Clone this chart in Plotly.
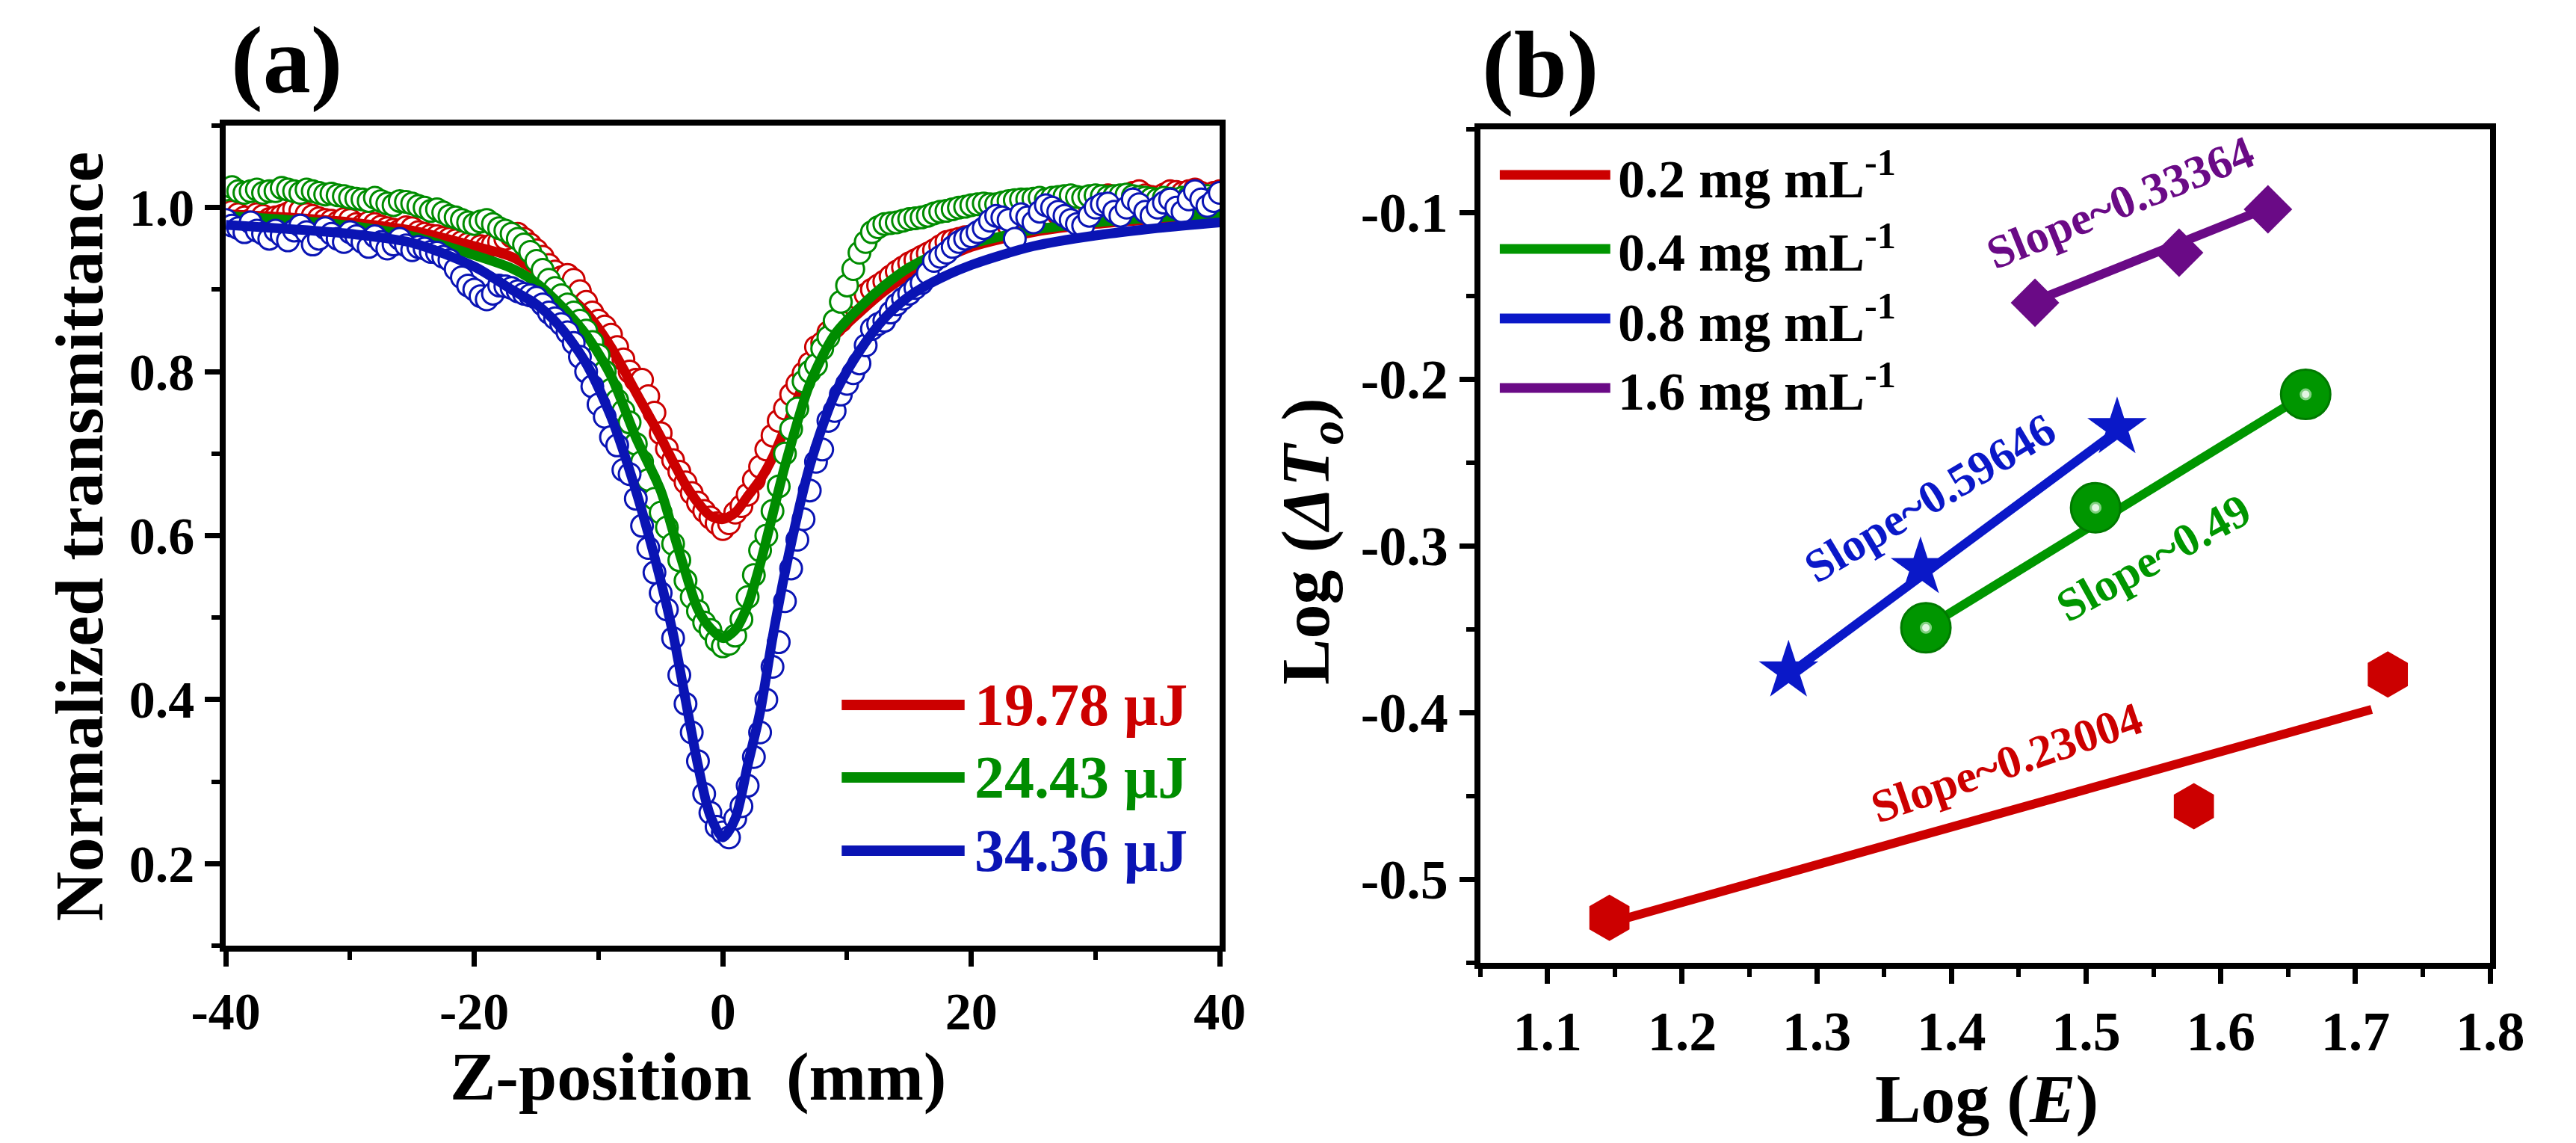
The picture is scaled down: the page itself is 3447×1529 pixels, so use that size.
import plotly.graph_objects as go

FONT = "Liberation Serif"
W, H = 3447, 1529

# ---------------- panel (a): Z-scan data ----------------
z_pos = [
    -40, -39.5, -39, -38.5, -38, -37.5, -37, -36.5, -36, -35.5,
    -35, -34.5, -34, -33.5, -33, -32.5, -32, -31.5, -31, -30.5,
    -30, -29.5, -29, -28.5, -28, -27.5, -27, -26.5, -26, -25.5,
    -25, -24.5, -24, -23.5, -23, -22.5, -22, -21.5, -21, -20.5,
    -20, -19.5, -19, -18.5, -18, -17.5, -17, -16.5, -16, -15.5,
    -15, -14.5, -14, -13.5, -13, -12.5, -12, -11.5, -11, -10.5,
    -10, -9.5, -9, -8.5, -8, -7.5, -7, -6.5, -6, -5.5,
    -5, -4.5, -4, -3.5, -3, -2.5, -2, -1.5, -1, -0.5,
    0, 0.5, 1, 1.5, 2, 2.5, 3, 3.5, 4, 4.5,
    5, 5.5, 6, 6.5, 7, 7.5, 8, 8.5, 9, 9.5,
    10, 10.5, 11, 11.5, 12, 12.5, 13, 13.5, 14, 14.5,
    15, 15.5, 16, 16.5, 17, 17.5, 18, 18.5, 19, 19.5,
    20, 20.5, 21, 21.5, 22, 22.5, 23, 23.5, 24, 24.5,
    25, 25.5, 26, 26.5, 27, 27.5, 28, 28.5, 29, 29.5,
    30, 30.5, 31, 31.5, 32, 32.5, 33, 33.5, 34, 34.5,
    35, 35.5, 36, 36.5, 37, 37.5, 38, 38.5, 39, 39.5,
    40,
]

t_1978 = [
    0.990, 0.995, 0.992, 0.988, 0.985, 0.992, 0.990, 0.986, 0.988, 0.990,
    0.993, 0.998, 0.996, 0.992, 0.990, 0.987, 0.985, 0.984, 0.982, 0.986,
    0.985, 0.980, 0.978, 0.982, 0.980, 0.977, 0.975, 0.973, 0.972, 0.976,
    0.975, 0.970, 0.968, 0.966, 0.965, 0.963, 0.962, 0.960, 0.958, 0.956,
    0.955, 0.953, 0.952, 0.955, 0.958, 0.962, 0.965, 0.968, 0.962, 0.955,
    0.948, 0.940, 0.930, 0.922, 0.915, 0.918, 0.912, 0.898, 0.885, 0.872,
    0.862, 0.855, 0.845, 0.830, 0.815, 0.800, 0.790, 0.790, 0.770, 0.750,
    0.725, 0.706, 0.692, 0.678, 0.665, 0.652, 0.640, 0.630, 0.622, 0.615,
    0.608, 0.615, 0.628, 0.636, 0.650, 0.668, 0.684, 0.705, 0.722, 0.740,
    0.755, 0.772, 0.785, 0.798, 0.810, 0.830, 0.835, 0.848, 0.855, 0.862,
    0.876, 0.882, 0.888, 0.894, 0.900, 0.905, 0.910, 0.916, 0.922, 0.927,
    0.932, 0.936, 0.940, 0.944, 0.948, 0.953, 0.958, 0.960, 0.962, 0.964,
    0.965, 0.968, 0.970, 0.973, 0.975, 0.976, 0.978, 0.980, 0.982, 0.984,
    0.985, 0.988, 0.990, 0.991, 0.992, 0.994, 0.995, 0.998, 1.000, 1.003,
    1.005, 1.010, 1.015, 1.012, 1.010, 1.014, 1.018, 1.020, 1.015, 1.013,
    1.012, 1.016, 1.020, 1.019, 1.018, 1.020, 1.022, 1.018, 1.015, 1.018,
    1.020,
]

t_2443 = [
    1.022, 1.025, 1.020, 1.018, 1.020, 1.022, 1.018, 1.020, 1.020, 1.024,
    1.022, 1.020, 1.018, 1.022, 1.020, 1.018, 1.016, 1.017, 1.015, 1.014,
    1.012, 1.011, 1.010, 1.008, 1.012, 1.008, 1.005, 1.003, 1.008, 1.007,
    1.005, 1.002, 1.000, 0.996, 0.998, 0.994, 0.990, 0.988, 0.985, 0.982,
    0.980, 0.983, 0.985, 0.980, 0.975, 0.972, 0.968, 0.962, 0.955, 0.946,
    0.935, 0.924, 0.912, 0.902, 0.893, 0.882, 0.872, 0.862, 0.850, 0.836,
    0.820, 0.800, 0.778, 0.765, 0.752, 0.738, 0.712, 0.690, 0.668, 0.645,
    0.628, 0.610, 0.590, 0.570, 0.545, 0.525, 0.508, 0.494, 0.485, 0.472,
    0.465, 0.468, 0.478, 0.498, 0.525, 0.552, 0.582, 0.600, 0.630, 0.660,
    0.700, 0.730, 0.755, 0.788, 0.800, 0.808, 0.828, 0.842, 0.862, 0.885,
    0.905, 0.925, 0.945, 0.958, 0.970, 0.976, 0.980, 0.981, 0.982, 0.984,
    0.986, 0.987, 0.988, 0.990, 0.993, 0.995, 0.996, 0.998, 1.000, 1.001,
    1.003, 1.004, 1.005, 1.004, 1.004, 1.006, 1.008, 1.009, 1.010, 1.010,
    1.011, 1.012, 1.010, 1.012, 1.013, 1.014, 1.015, 1.013, 1.012, 1.014,
    1.015, 1.014, 1.013, 1.014, 1.015, 1.016, 1.014, 1.013, 1.012, 1.011,
    1.010, 1.012, 1.011, 1.010, 1.012, 1.013, 1.010, 1.012, 1.014, 1.012,
    1.010,
]

t_3436 = [
    0.985, 0.978, 0.975, 0.970, 0.982, 0.972, 0.968, 0.962, 0.972, 0.966,
    0.960, 0.972, 0.978, 0.970, 0.955, 0.962, 0.975, 0.968, 0.962, 0.958,
    0.970, 0.965, 0.958, 0.952, 0.965, 0.958, 0.950, 0.955, 0.962, 0.954,
    0.948, 0.952, 0.950, 0.946, 0.945, 0.940, 0.936, 0.925, 0.915, 0.905,
    0.900, 0.892, 0.888, 0.895, 0.905, 0.904, 0.902, 0.898, 0.895, 0.893,
    0.890, 0.882, 0.872, 0.865, 0.858, 0.848, 0.835, 0.818, 0.800, 0.782,
    0.760, 0.745, 0.720, 0.710, 0.680, 0.675, 0.645, 0.612, 0.585, 0.555,
    0.530, 0.510, 0.475, 0.430, 0.395, 0.360, 0.325, 0.285, 0.262, 0.245,
    0.238, 0.232, 0.255, 0.270, 0.295, 0.330, 0.360, 0.400, 0.440, 0.470,
    0.520, 0.560, 0.595, 0.620, 0.655, 0.690, 0.705, 0.740, 0.752, 0.772,
    0.785, 0.798, 0.810, 0.832, 0.852, 0.858, 0.862, 0.872, 0.882, 0.889,
    0.895, 0.902, 0.908, 0.920, 0.935, 0.940, 0.945, 0.952, 0.958, 0.962,
    0.965, 0.970, 0.975, 0.984, 0.990, 0.988, 0.985, 0.962, 0.992, 0.988,
    0.982, 0.995, 1.003, 1.000, 0.995, 0.990, 0.985, 0.980, 0.978, 0.990,
    1.000, 1.004, 1.005, 0.995, 0.990, 1.000, 1.010, 1.004, 0.995, 0.990,
    1.000, 1.006, 1.010, 1.000, 0.995, 1.010, 1.020, 1.010, 1.002, 1.008,
    1.018,
]

# fitted curves
fit_z = [-40, -35, -30, -25, -20, -17, -15, -13, -11, -9, -7, -5, -4, -3, -2, -1,
         0, 1, 2, 3, 4, 5, 7, 9, 11, 13, 15, 17, 20, 25, 30, 35, 40]
fit_1978 = [0.992, 0.988, 0.982, 0.972, 0.953, 0.940, 0.922, 0.900, 0.872, 0.830,
            0.775, 0.720, 0.690, 0.662, 0.640, 0.624, 0.620, 0.628, 0.648, 0.668,
            0.695, 0.730, 0.800, 0.843, 0.872, 0.898, 0.918, 0.932, 0.952, 0.970,
            0.980, 0.986, 0.990]
fit_2443 = [0.990, 0.985, 0.978, 0.965, 0.942, 0.926, 0.908, 0.880, 0.845, 0.795,
            0.720, 0.655, 0.605, 0.555, 0.510, 0.487, 0.475, 0.485, 0.515, 0.565,
            0.625, 0.685, 0.785, 0.845, 0.878, 0.905, 0.927, 0.942, 0.956, 0.973,
            0.982, 0.988, 0.992]
fit_3436 = [0.979, 0.974, 0.968, 0.957, 0.928, 0.900, 0.882, 0.853, 0.810, 0.745,
            0.655, 0.545, 0.480, 0.400, 0.320, 0.258, 0.232, 0.255, 0.320, 0.385,
            0.475, 0.555, 0.685, 0.772, 0.825, 0.865, 0.892, 0.910, 0.930, 0.953,
            0.966, 0.975, 0.982]

energy_labels = ["19.78 μJ", "24.43 μJ", "34.36 μJ"]
colors_a = ["#cc0000", "#008c00", "#0a14b4"]

z_ticks = [-40, -20, 0, 20, 40]
z_ticktext = ["-40", "-20", "0", "20", "40"]
t_ticks = [0.2, 0.4, 0.6, 0.8, 1.0]
t_ticktext = ["0.2", "0.4", "0.6", "0.8", "1.0"]

# ---------------- panel (b): log-log fits ----------------
conc_labels = ["0.2 mg mL<sup>-1</sup>", "0.4 mg mL<sup>-1</sup>",
               "0.8 mg mL<sup>-1</sup>", "1.6 mg mL<sup>-1</sup>"]
colors_b = ["#cc0000", "#009600", "#0a18c8", "#6a0a86"]

logE_02 = [1.146, 1.580, 1.724]
logT_02 = [-0.523, -0.456, -0.377]
logE_04 = [1.381, 1.507, 1.663]
logT_04 = [-0.349, -0.277, -0.209]
logE_08 = [1.279, 1.377, 1.523]
logT_08 = [-0.375, -0.313, -0.229]
logE_16 = [1.462, 1.569, 1.635]
logT_16 = [-0.154, -0.124, -0.098]

fitE_02, fitT_02 = [1.146, 1.712], [-0.526, -0.398]
fitE_04, fitT_04 = [1.381, 1.663], [-0.349, -0.209]
fitE_08, fitT_08 = [1.279, 1.523], [-0.377, -0.231]
fitE_16, fitT_16 = [1.462, 1.635], [-0.153, -0.097]

slope_text = ["Slope~0.23004", "Slope~0.49", "Slope~0.59646", "Slope~0.33364"]

e_ticks = [1.1, 1.2, 1.3, 1.4, 1.5, 1.6, 1.7, 1.8]
e_ticktext = ["1.1", "1.2", "1.3", "1.4", "1.5", "1.6", "1.7", "1.8"]
d_ticks = [-0.5, -0.4, -0.3, -0.2, -0.1]
d_ticktext = ["-0.5", "-0.4", "-0.3", "-0.2", "-0.1"]


def px_x(v):
    return v / W


def px_y(v):
    return 1 - v / H


fig = go.Figure()

# --- panel (a): open circles + fitted curves ---
for t_vals, fit_vals, col in zip([t_1978, t_2443, t_3436],
                                 [fit_1978, fit_2443, fit_3436], colors_a):
    fig.add_trace(go.Scatter(
        x=z_pos, y=t_vals, mode="markers", xaxis="x", yaxis="y",
        marker=dict(symbol="circle", size=29, color="white",
                    line=dict(color=col, width=3)),
        showlegend=False, hoverinfo="skip"))
    fig.add_trace(go.Scatter(
        x=fit_z, y=fit_vals, mode="lines", xaxis="x", yaxis="y",
        line=dict(color=col, width=13, shape="spline", smoothing=0.8),
        showlegend=False))

# --- panel (b): fit lines under the symbols ---
fits_b = [(fitE_02, fitT_02), (fitE_04, fitT_04), (fitE_08, fitT_08), (fitE_16, fitT_16)]
for (fx, fy), col in zip(fits_b, colors_b):
    fig.add_trace(go.Scatter(x=fx, y=fy, mode="lines", xaxis="x2", yaxis="y2",
                             line=dict(color=col, width=12), showlegend=False))

fig.add_trace(go.Scatter(x=logE_02, y=logT_02, mode="markers", xaxis="x2", yaxis="y2",
                         marker=dict(symbol="hexagon", size=62, color=colors_b[0]),
                         showlegend=False))
fig.add_trace(go.Scatter(x=logE_04, y=logT_04, mode="markers", xaxis="x2", yaxis="y2",
                         marker=dict(symbol="circle", size=66, color=colors_b[1],
                                     line=dict(color="#007a00", width=3)),
                         showlegend=False))
# white highlight on the green balls
fig.add_trace(go.Scatter(x=logE_04, y=logT_04, mode="markers", xaxis="x2", yaxis="y2",
                         marker=dict(symbol="circle", size=13, color="#e2f5e2",
                                     line=dict(color="#7fcf7f", width=3)),
                         showlegend=False, hoverinfo="skip"))
fig.add_trace(go.Scatter(x=logE_08, y=logT_08, mode="markers", xaxis="x2", yaxis="y2",
                         marker=dict(symbol="star", size=60, color=colors_b[2]),
                         showlegend=False))
fig.add_trace(go.Scatter(x=logE_16, y=logT_16, mode="markers", xaxis="x2", yaxis="y2",
                         marker=dict(symbol="diamond", size=50, color=colors_b[3]),
                         showlegend=False))

# --- axes ---
axis_style = dict(
    showline=True, linecolor="black", linewidth=8, mirror=True,
    ticks="outside", ticklen=20, tickwidth=7, tickcolor="black",
    showgrid=False, zeroline=False, tickmode="array",
)
minor_style = dict(ticks="outside", ticklen=11, tickwidth=6, tickcolor="black")
font_a = dict(family=FONT, size=70, color="black", weight="bold")
font_b = dict(family=FONT, size=74, color="black", weight="bold")

fig.update_layout(
    xaxis=dict(axis_style, domain=[px_x(254), px_x(1621)], range=[-40, 40],
               tickvals=z_ticks, ticktext=z_ticktext, anchor="y", tickfont=font_a,
               minor=dict(minor_style, dtick=10, tick0=-40)),
    yaxis=dict(axis_style, domain=[px_y(1257), px_y(160)], range=[0.1, 1.1],
               tickvals=t_ticks, ticktext=t_ticktext, anchor="x", tickfont=font_a,
               minor=dict(minor_style, dtick=0.1, tick0=0.1)),
    xaxis2=dict(axis_style, domain=[px_x(1979), px_x(3368)], range=[1.05, 1.8],
                tickvals=e_ticks, ticktext=e_ticktext, anchor="y2", tickfont=font_b,
                minor=dict(minor_style, dtick=0.05, tick0=1.05)),
    yaxis2=dict(axis_style, domain=[px_y(1280), px_y(165)], range=[-0.55, -0.05],
                tickvals=d_ticks, ticktext=d_ticktext, anchor="x2", tickfont=font_b,
                minor=dict(minor_style, dtick=0.05, tick0=-0.55)),
    width=W, height=H,
    margin=dict(l=0, r=0, t=0, b=0),
    paper_bgcolor="white", plot_bgcolor="white",
    showlegend=False,
)

annotations = []
shapes = []


def add_text(text, x, y, size, color="black", angle=0, xanchor="center",
             xref="paper", yref="paper"):
    annotations.append(dict(
        text=text, x=x, y=y, xref=xref, yref=yref, showarrow=False,
        xanchor=xanchor, yanchor="middle", textangle=angle,
        font=dict(family=FONT, size=size, color=color, weight="bold")))


# panel labels and axis titles
add_text("(a)", px_x(338), px_y(72), 128)
add_text("(b)", px_x(2062), px_y(78), 128)
add_text("Normalized transmittance", px_x(52), px_y(710), 92, angle=-90)
add_text("Z-position\u00a0\u00a0(mm)", px_x(903), px_y(1432), 92)
add_text("Log (<i>ΔT</i><sub><i>o</i></sub>)", px_x(1745), px_y(716), 92, angle=-90)
add_text("Log (<i>E</i>)", px_x(2676), px_y(1462), 92)

# legend (a)
for lbl, col, row in zip(energy_labels, colors_a, [935, 1032, 1130]):
    shapes.append(dict(type="line", xref="paper", yref="paper",
                       x0=px_x(1101), x1=px_x(1270), y0=px_y(row), y1=px_y(row),
                       line=dict(color=col, width=14)))
    add_text(lbl, px_x(1282), px_y(row), 80, color=col, xanchor="left")

# legend (b)
for lbl, col, row in zip(conc_labels, colors_b, [226, 325, 418, 511]):
    shapes.append(dict(type="line", xref="paper", yref="paper",
                       x0=px_x(2006), x1=px_x(2158), y0=px_y(row), y1=px_y(row),
                       line=dict(color=col, width=13)))
    add_text(lbl, px_x(2166), px_y(row), 72, xanchor="left")

# slope labels
slope_pos = [(1.441, -0.430, -19), (1.550, -0.307, -29), (1.384, -0.271, -31), (1.525, -0.094, -22)]
for txt, col, (sx, sy, ang) in zip(slope_text, colors_b, slope_pos):
    add_text(txt, sx, sy, 62, color=col, angle=ang, xref="x2", yref="y2")

fig.update_layout(annotations=annotations, shapes=shapes)

fig.write_html("out.html")
